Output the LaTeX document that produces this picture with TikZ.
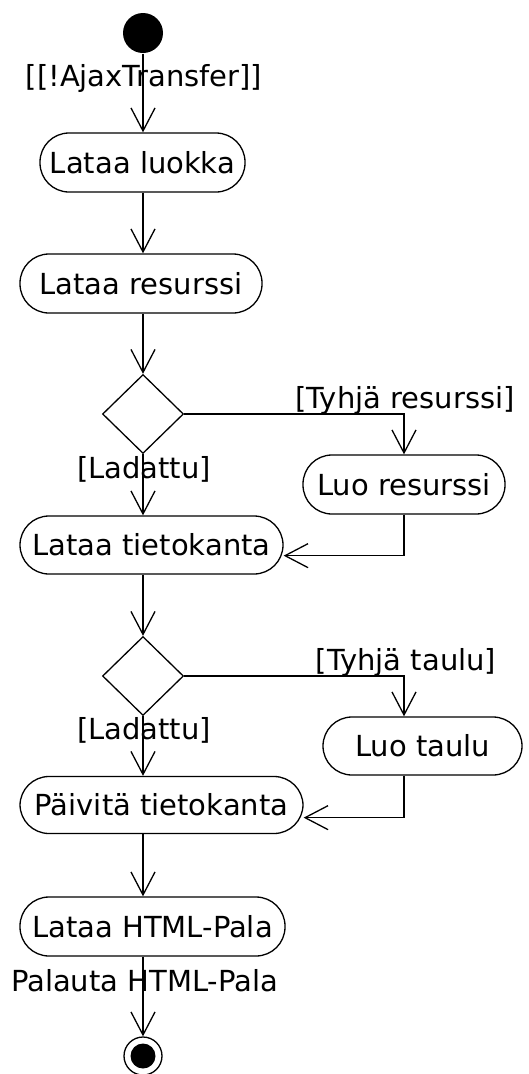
\documentclass[tikz,border=0pt]{standalone}
\usepackage{fontspec}
\setmainfont{DejaVu Sans}
\usetikzlibrary{arrows.meta,shapes.geometric}
\begin{document}
\begin{tikzpicture}[x=1pt,y=-1pt,
  line width=1.3pt,
  every node/.style={font=\fontsize{29}{35}\selectfont, inner sep=0pt},
  act/.style={draw, rectangle, rounded corners=29pt, minimum height=59pt},
  dec/.style={draw, diamond, minimum width=81pt, minimum height=79pt, aspect=1},
  lbl/.style={anchor=center},
  arr/.style={-{Straight Barb[length=23pt,width=24pt,line width=1.3pt]}}
]
\useasboundingbox (0,0) rectangle (529,1074);
\node[circle, fill=black, minimum size=40pt] (start) at (143,33) {};
\node[act, minimum width=205pt] (n1) at (142.5,162.5) {Lataa luokka};
\node[act, minimum width=242pt] (n2) at (141,283.5) {Lataa resurssi};
\node[dec] (d1) at (143,414) {};
\node[act, minimum width=202pt] (n3) at (404,484.5) {Luo resurssi};
\node[act, minimum width=263pt, minimum height=58pt] (n4) at (151.5,545) {Lataa tietokanta};
\node[dec] (d2) at (143,676) {};
\node[act, minimum width=199pt, minimum height=58pt] (n5) at (422.5,746) {Luo taulu};
\node[act, minimum width=283pt, minimum height=57pt] (n6) at (161.5,805) {Päivitä tietokanta};
\node[act, minimum width=265pt] (n7) at (152.5,926.5) {Lataa HTML-Pala};
\node[circle, draw, minimum size=38pt] (end) at (143,1056) {};
\node[circle, fill=black, minimum size=25pt] (endin) at (143,1056) {};

\node[lbl] (l0) at (144,78) {[[!AjaxTransfer]]};
\node[lbl] (l1) at (405,400) {[Tyhjä resurssi]};
\node[lbl] (l2) at (144,469) {[Ladattu]};
\node[lbl] (l3) at (406,662) {[Tyhjä taulu]};
\node[lbl] (l4) at (144,730) {[Ladattu]};
\node[lbl] (l5) at (144.5,981) {Palauta HTML-Pala};

\draw[arr] (start) -- (start |- n1.north);
\draw[arr] (start |- n1.south) -- (start |- n2.north);
\draw[arr] (start |- n2.south) -- (d1.north);
\draw[arr] (d1.east) -- (d1.east -| n3.north) -- (n3.north);
\draw[arr] (d1.south) -- (start |- n4.north);
\draw[arr] (n3.south) -- ++(0,41) coordinate (c1) -- (c1 -| n4.east);
\draw[arr] (start |- n4.south) -- (d2.north);
\draw[arr] (d2.east) -- (d2.east -| n3.north) -- (n5.north -| n3.north);
\draw[arr] (d2.south) -- (start |- n6.north);
\draw[arr] (n5.south -| n3.north) -- ++(0,42) coordinate (c2) -- (c2 -| n6.east);
\draw[arr] (start |- n6.south) -- (start |- n7.north);
\draw[arr] (start |- n7.south) -- (end.north);
\end{tikzpicture}
\end{document}
